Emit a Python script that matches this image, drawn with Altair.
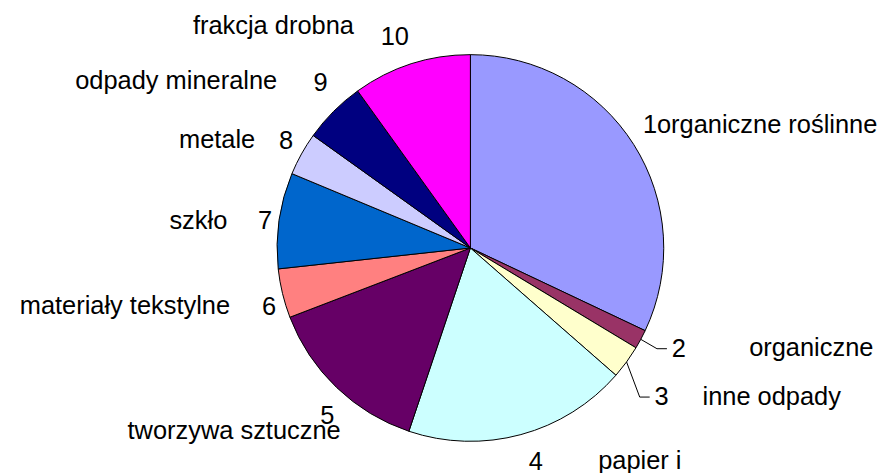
import altair as alt
import pandas as pd

# ---- data ----
numbers = ["1", "2", "3", "4", "5", "6", "7", "8", "9", "10"]
categories = ["organiczne roślinne", "organiczne", "inne odpady", "papier i",
              "tworzywa sztuczne", "materiały tekstylne", "szkło", "metale",
              "odpady mineralne", "frakcja drobna"]
values = [32.0, 1.6, 2.8, 18.7, 14.0, 4.1, 8.0, 3.6, 5.2, 9.9]
colors = ["#9999FF", "#993366", "#FFFFCC", "#CCFFFF", "#660066",
          "#FF8080", "#0066CC", "#CCCCFF", "#000080", "#FF00FF"]

df = pd.DataFrame({"idx": list(range(len(values))), "num": numbers,
                   "name": categories, "value": values})
total = float(sum(values))

FONT = "Liberation Sans"
FS = 25.5

# label layout: (radius, dx, dy) of number; (align, dx, dy) of name relative to number
num_layout = [(219, -4.8, -6.0), (231.7, 5.0, -8.4), (242.4, -3.9, 6.7), (222.8, 7.5, -0.6),
              (220.2, 8.8, 9.4), (210.2, 2.2, 9.7), (207.9, -0.2, 3.0), (214.7, 2.7, -3.3),
              (224.8, 8.7, -6.8), (226.2, -6.6, 3.8)]
name_layout = [("left", 7, 7.5), ("left", 70.5, 7.5), ("left", 41, 7.5), ("left", 62.5, 7.5),
               ("left", -200.5, 23.5), ("right", -39, 7.5), ("right", -38, 7.5),
               ("right", -31, 7.5), ("right", -43.5, 6.5), ("right", -41, -3.5)]
leader_idx = [1, 2]

theta_scale = alt.Scale(domain=[0, total])


def base():
    return (alt.Chart(df)
            .transform_window(cum="sum(value)", sort=[alt.SortField("idx")], frame=[None, 0])
            .transform_calculate(mid="datum.cum - datum.value / 2"))


pie = alt.Chart(df).mark_arc(stroke="black", strokeWidth=1).encode(
    theta=alt.Theta("value:Q", stack=True, scale=theta_scale),
    color=alt.Color("num:N", scale=alt.Scale(domain=numbers, range=colors), legend=None),
    order=alt.Order("idx:Q"),
)

layers = [pie]
for i in range(len(values)):
    r, ndx, ndy = num_layout[i]
    al, mdx, mdy = name_layout[i]
    b = base().transform_filter(alt.datum.idx == i)
    layers.append(b.mark_text(radius=r, dx=ndx, dy=ndy, font=FONT, fontSize=FS,
                              align="center", baseline="middle", color="black").encode(
        theta=alt.Theta("mid:Q", stack=False, scale=theta_scale), text="num:N"))
    layers.append(b.mark_text(radius=r, dx=ndx + mdx, dy=ndy + mdy, font=FONT, fontSize=FS,
                              align=al, baseline="alphabetic", color="black").encode(
        theta=alt.Theta("mid:Q", stack=False, scale=theta_scale), text="name:N"))

for i in leader_idx:
    r, ndx, ndy = num_layout[i]
    b = (base().transform_filter(alt.datum.idx == i)
         .transform_calculate(a=f"2 * PI * datum.mid / {total}")
         .transform_calculate(
             ex="width / 2 + min(width, height) / 2 * sin(datum.a)",
             ey="height / 2 - min(width, height) / 2 * cos(datum.a)",
             lx=f"width / 2 + {r} * sin(datum.a) + {ndx} - 22",
             ly=f"height / 2 - {r} * cos(datum.a) + {ndy}",
         )
         .transform_calculate(lx2="datum.lx + 10"))
    layers.append(b.mark_rule(color="black", strokeWidth=1).encode(
        x=alt.X("ex:Q", scale=None, axis=None), y=alt.Y("ey:Q", scale=None, axis=None),
        x2="lx:Q", y2="ly:Q"))
    layers.append(b.mark_rule(color="black", strokeWidth=1).encode(
        x=alt.X("lx:Q", scale=None, axis=None), y=alt.Y("ly:Q", scale=None, axis=None),
        x2="lx2:Q"))

chart = alt.layer(*layers).properties(
    width=388, height=388,
    padding={"left": 270, "top": 46, "right": 214, "bottom": 31},
    autosize=alt.AutoSizeParams(type="none"),
).configure_view(strokeWidth=0)

chart.save("out.html", embed_options={"renderer": "svg", "actions": False})
